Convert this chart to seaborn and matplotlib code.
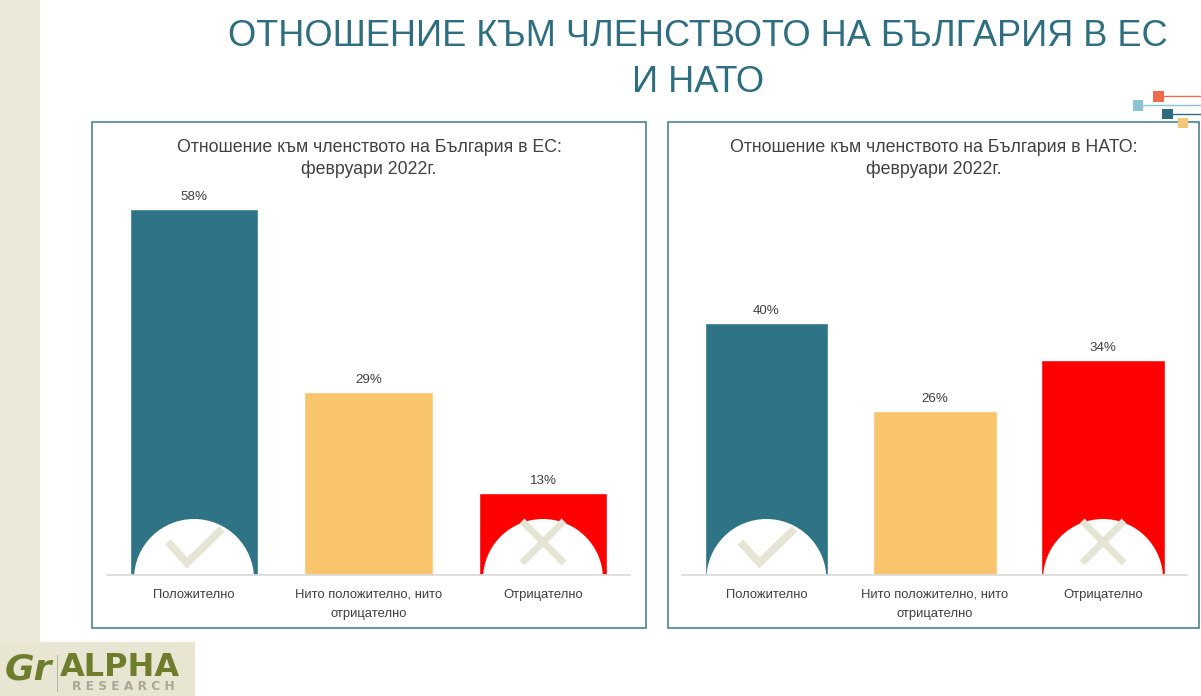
import matplotlib
matplotlib.use("Agg")
import matplotlib.pyplot as plt
import matplotlib.transforms as mtransforms
from matplotlib.patches import Rectangle, Circle
from matplotlib.lines import Line2D
import pandas as pd
import seaborn as sns

# data
CATEGORIES = ["Положително", "Нито положително, нито\nотрицателно", "Отрицателно"]
EU_VALUES = [58, 29, 13]
NATO_VALUES = [40, 26, 34]
BAR_COLORS = ["#2f7486", "#f8c56c", "#fe0000"]
MAIN_TITLE = "ОТНОШЕНИЕ КЪМ ЧЛЕНСТВОТО НА БЪЛГАРИЯ В ЕС\nИ НАТО"
EU_TITLE = "Отношение към членството на България в ЕС:\nфевруари 2022г."
NATO_TITLE = "Отношение към членството на България в НАТО:\nфевруари 2022г."

W, H = 1201, 696
TEAL = "#2e6e80"
TEXT = "#404040"
BEIGE = "#e6e4d4"

sns.set_style("white")
plt.rcParams["font.family"] = ["Liberation Sans", "DejaVu Sans"]


def fx(px):
    return px / W


def fy(py):
    return 1 - py / H


def add_rect(fig, x0, y0, x1, y1, **kw):
    fig.patches.append(Rectangle((fx(x0), fy(y1)), fx(x1 - x0), (y1 - y0) / H,
                                 transform=fig.transFigure, figure=fig, **kw))


def add_hline(fig, x0, x1, y, color, lw=1.0):
    fig.lines.append(Line2D([fx(x0), fx(x1)], [fy(y), fy(y)], transform=fig.transFigure,
                            color=color, linewidth=lw))


def panel(fig, box, ax_px, title, values, marks):
    x0, y0, x1, y1 = box
    add_rect(fig, x0, y0, x1, y1, fill=False, edgecolor="#5a8a9c", linewidth=1.3)
    fig.text(fx((x0 + x1) / 2), fy(158.5), title, ha="center", va="center",
             fontsize=12.8, color=TEXT, linespacing=1.4)

    ax_l, ax_r, ax_top, ax_bot = ax_px
    ax = fig.add_axes([fx(ax_l), fy(ax_bot), fx(ax_r - ax_l), (ax_bot - ax_top) / H])
    df = pd.DataFrame({"cat": CATEGORIES, "val": values})
    sns.barplot(data=df, x="cat", y="val", hue="cat", palette=BAR_COLORS,
                saturation=1, width=0.735, legend=False, ax=ax, zorder=2)
    ax.set_xlim(-0.5, 2.5)
    ax.set_ylim(0, 60)
    ax.set_xlabel("")
    ax.set_ylabel("")
    ax.set_yticks([])
    ax.patch.set_alpha(0)
    sns.despine(ax=ax, left=True)
    ax.spines["bottom"].set_color("#d9d9d9")
    ax.spines["bottom"].set_linewidth(1.2)
    ax.spines["bottom"].set_zorder(6)
    ax.tick_params(axis="x", length=0, pad=10, labelsize=9.4, labelcolor=TEXT)
    for lab in ax.get_xticklabels():
        lab.set_linespacing(1.75)

    for i, v in enumerate(values):
        ax.annotate(f"{v}%", (i, v), xytext=(0, 6.5), textcoords="offset points",
                    ha="center", va="baseline", fontsize=9.6, color=TEXT)

    # white half circle with check / cross icons (pixel units around the bar foot)
    for i, mark in enumerate(marks):
        if mark is None:
            continue
        tr = fig.dpi_scale_trans + mtransforms.ScaledTranslation(i, 0, ax.transData)
        ax.add_patch(Circle((0, -0.04), 0.60, transform=tr, facecolor="white",
                            edgecolor="none", zorder=3))
        if mark == "check":
            ax.add_line(Line2D([-0.26, -0.07, 0.28], [0.33, 0.12, 0.46], transform=tr,
                               color=BEIGE, linewidth=5.5, solid_capstyle="butt",
                               solid_joinstyle="miter", zorder=4))
        else:
            for sx in (-1, 1):
                ax.add_line(Line2D([-0.21 * sx, 0.21 * sx], [0.12, 0.54], transform=tr,
                                   color=BEIGE, linewidth=5, solid_capstyle="butt", zorder=4))
    return ax


fig = plt.figure(figsize=(W / 100, H / 100), dpi=100)
fig.patch.set_facecolor("white")

# side strip and logo background
add_rect(fig, 0, 0, 40, H, facecolor="#ebe8d8", edgecolor="none")
add_rect(fig, 0, 642, 195, H, facecolor="#e8e5d3", edgecolor="none")

fig.text(fx(698), fy(59.5), MAIN_TITLE, ha="center", va="center", fontsize=26,
         color=TEAL, linespacing=1.38)

marks = ["check", None, "cross"]
panel(fig, (92, 122, 646, 628), (106.75, 630.25, 196.4, 575), EU_TITLE, EU_VALUES, marks)
panel(fig, (668, 122, 1199, 628), (682.25, 1187.25, 196.4, 575), NATO_TITLE, NATO_VALUES, marks)

# top-right decoration
add_hline(fig, 1158, W, 96, "#e8704f")
add_hline(fig, 1138, W, 105, "#8cc3d3")
add_hline(fig, 1167, W, 114, "#2c6b80")
add_rect(fig, 1153, 91, 1164, 102, facecolor="#ee6b4d", edgecolor="none")
add_rect(fig, 1133, 100, 1143, 111, facecolor="#8cc3d3", edgecolor="none")
add_rect(fig, 1162, 109, 1173, 119, facecolor="#2c6b80", edgecolor="none")
add_rect(fig, 1178, 118, 1188, 128, facecolor="#f0c878", edgecolor="none")

# logo
fig.text(fx(5), fy(670), "Gr", fontsize=26, fontweight="bold", fontstyle="italic",
         color="#6e7d2c", va="center", ha="left", family="DejaVu Sans")
add_rect(fig, 57, 655, 58, 692, facecolor="#b8b69c", edgecolor="none")
fig.text(fx(60), fy(667), "ALPHA", fontsize=23, fontweight="heavy", color="#6e7d2c",
         va="center", ha="left", family="DejaVu Sans")
fig.text(fx(72), fy(687), "R E S E A R C H", fontsize=8.8, fontweight="bold",
         color="#a9a890", va="center", ha="left", family="DejaVu Sans")

fig.savefig("out.png", dpi=100, facecolor="white")
